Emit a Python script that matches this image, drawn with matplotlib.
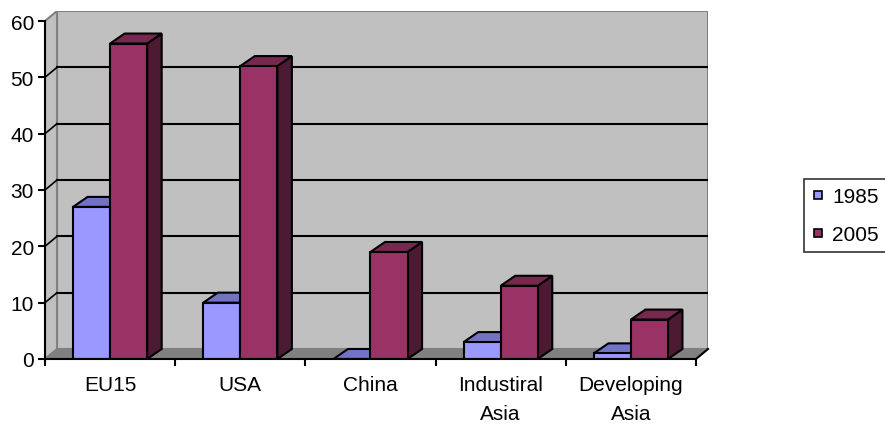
import numpy as np
import matplotlib.pyplot as plt
from matplotlib.patches import Polygon
from matplotlib.lines import Line2D

plt.rcParams['font.family'] = ['Liberation Sans', 'DejaVu Sans']

categories = ['EU15', 'USA', 'China', 'Industiral\nAsia', 'Developing\nAsia']
years = ['1985', '2005']
v1985 = [27, 10, 0, 3, 1]
v2005 = [56, 52, 19, 13, 7]

# colours of the old excel look: front, top, side
col_1985 = ('#9999FF', '#7373C4', '#5C5CA8')
col_2005 = ('#993366', '#76284F', '#4D1A33')

W, H = 885, 427
fig = plt.figure(figsize=(W / 100, H / 100), dpi=100)
# axes in pixels: front axis x 45..697, back wall right 708, y 0 -> 360, back top 12
ax = fig.add_axes([45 / W, (H - 360) / H, 663 / W, 348 / H])

px_y = 338 / 60.0      # pixels per unit
ox = 12 / 130.0        # wall depth in x units
oy = 10 / px_y         # wall depth in y units
bx = 14.5 / 130.0      # bar depth
by = 10 / px_y
w = 37 / 130.0         # bar width

ax.set_xlim(-0.5, 4.5 + ox)
ax.set_ylim(0, 60 + oy)
ax.set_facecolor('none')

# back wall, side wall, floor
ax.add_patch(Polygon([(-0.5 + ox, oy), (4.5 + ox, oy), (4.5 + ox, 60 + oy), (-0.5 + ox, 60 + oy)],
                     closed=True, fc='#C0C0C0', ec='#808080', lw=1.5, zorder=0))
ax.add_patch(Polygon([(-0.5, 0), (-0.5 + ox, oy), (-0.5 + ox, 60 + oy), (-0.5, 60)],
                     closed=True, fc='#C0C0C0', ec='#808080', lw=1.5, zorder=0))
ax.add_patch(Polygon([(-0.5, 0), (4.5, 0), (4.5 + ox, oy), (-0.5 + ox, oy)],
                     closed=True, fc='#808080', ec='#808080', lw=1, zorder=1))
ax.plot([4.5, 4.5 + ox], [0, oy], color='black', lw=1.5, zorder=2, clip_on=False)

# gridlines on back and side wall
for v in range(10, 60, 10):
    ax.plot([-0.5 + ox, 4.5 + ox], [v + oy, v + oy], color='black', lw=1.5, zorder=1)
    ax.plot([-0.5, -0.5 + ox], [v, v + oy], color='black', lw=1.2, zorder=1)


def bar3d(x0, vals, cols, z):
    ax.bar(x0, vals, width=w, align='edge', color=cols[0], edgecolor='black',
           linewidth=1.5, zorder=z + 0.2)
    for x, v in zip(x0, vals):
        side = [(x + w, 0), (x + w + bx, by), (x + w + bx, v + by), (x + w, v)]
        top = [(x, v), (x + w, v), (x + w + bx, v + by), (x + bx, v + by)]
        ax.add_patch(Polygon(side, closed=True, fc=cols[2], ec='black', lw=1.5, zorder=z))
        ax.add_patch(Polygon(top, closed=True, fc=cols[1], ec='black', lw=1.5, zorder=z + 0.1))


xc = np.arange(len(categories))
bar3d(xc - w, v1985, col_1985, 3)
bar3d(xc, v2005, col_2005, 4)

# axes lines and ticks
for s in ['top', 'right']:
    ax.spines[s].set_visible(False)
ax.spines['left'].set_bounds(0, 60)
ax.spines['bottom'].set_bounds(-0.5, 4.5)
for s in ['left', 'bottom']:
    ax.spines[s].set_linewidth(1.5)
    ax.spines[s].set_zorder(5)
ax.spines['left'].set_position(('data', -0.5))

ax.set_yticks(range(0, 61, 10))
ax.tick_params(axis='y', direction='out', length=5, width=1.5, labelsize=15, pad=3)
ax.set_xticks(np.arange(-0.5, 4.6, 1.0))
ax.set_xticklabels([])
ax.tick_params(axis='x', which='major', direction='out', length=5, width=1.5)
ax.set_xticks(xc, minor=True)
ax.set_xticklabels(categories, minor=True, multialignment='center', linespacing=1.7)
ax.tick_params(axis='x', which='minor', length=0, labelsize=15, pad=11.5)

handles = [Line2D([], [], ls='', marker='s', markersize=6, markerfacecolor=c[0],
                  markeredgecolor='black', markeredgewidth=1.2) for c in (col_1985, col_2005)]
leg = fig.legend(handles, years, loc='upper left', bbox_to_anchor=(804 / W, (H - 180) / H),
                 frameon=True, fancybox=False, edgecolor='black', fontsize=15,
                 handlelength=0.5, handletextpad=0.45, labelspacing=0.9, borderpad=0.4,
                 borderaxespad=0)
leg.get_frame().set_linewidth(1.2)

fig.savefig('out.png', dpi=100)
